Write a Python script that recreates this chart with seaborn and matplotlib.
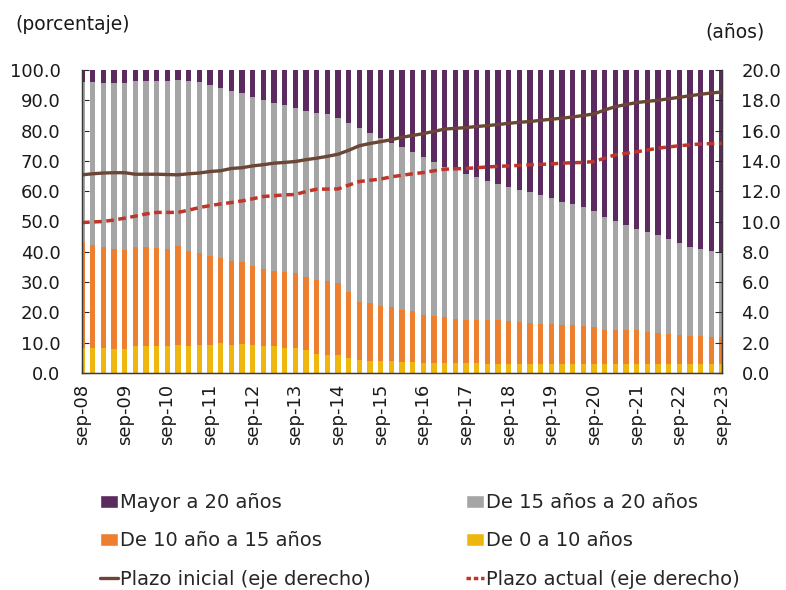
import numpy as np
import pandas as pd
import seaborn as sns
import matplotlib.pyplot as plt
from matplotlib.patches import Patch
from matplotlib.lines import Line2D

# trimestres: sep-08 (pos 0) ... sep-23 (pos 60)
pos = list(range(61))
tick_labels = ['sep-08', 'sep-09', 'sep-10', 'sep-11', 'sep-12', 'sep-13', 'sep-14', 'sep-15',
               'sep-16', 'sep-17', 'sep-18', 'sep-19', 'sep-20', 'sep-21', 'sep-22', 'sep-23']

# porcentaje (eje izquierdo)
de_0_a_10 = [8.2, 8.2, 8.2, 8.0, 8.0, 9.0, 9.0, 9.0, 9.0, 9.3, 9.0, 9.3, 9.3, 9.9, 9.3, 9.5,
             9.1, 8.8, 8.8, 8.2, 8.2, 7.7, 6.3, 6.0, 6.0, 5.0, 4.4, 4.1, 3.8, 4.1, 3.6, 3.5,
             3.3, 3.3, 3.3, 3.3, 3.2, 3.2, 3.1, 3.1, 3.1, 3.1, 3.1, 3.1, 3.0, 3.0, 3.0, 3.0,
             3.0, 3.0, 3.0, 3.0, 3.0, 3.0, 3.0, 3.0, 3.0, 3.0, 3.0, 3.0, 3.0]
de_10_a_15 = [34.9, 34.1, 33.3, 32.9, 32.7, 32.5, 32.5, 32.4, 31.9, 32.7, 31.1, 30.3, 29.2, 27.9, 27.5, 27.0,
              26.1, 25.6, 24.9, 25.0, 24.8, 24.1, 24.5, 24.4, 23.7, 21.7, 19.1, 19.0, 18.4, 17.7, 17.3, 16.8,
              15.9, 15.6, 15.2, 14.5, 14.4, 14.4, 14.3, 14.3, 14.0, 13.8, 13.4, 13.2, 13.2, 12.9, 12.7, 12.4,
              12.2, 11.1, 11.1, 11.1, 11.1, 10.4, 10.2, 9.9, 9.5, 9.3, 9.1, 8.9, 8.8]
de_15_a_20 = [53.1, 53.6, 54.1, 54.7, 54.9, 54.8, 55.0, 55.1, 55.6, 54.7, 56.4, 56.4, 56.6, 56.3, 56.4, 55.8,
              56.0, 55.7, 55.5, 55.2, 54.6, 54.8, 55.1, 55.0, 54.6, 55.9, 57.2, 56.0, 55.2, 54.2, 53.8, 52.8,
              52.0, 50.8, 49.6, 49.2, 48.0, 47.0, 46.1, 45.0, 44.4, 43.5, 43.1, 42.5, 41.5, 40.7, 40.1, 39.5,
              38.4, 37.5, 36.2, 34.8, 33.5, 33.1, 32.2, 31.3, 30.4, 29.2, 28.8, 28.2, 27.8]
mayor_20 = [3.8, 4.1, 4.4, 4.4, 4.4, 3.7, 3.5, 3.5, 3.5, 3.3, 3.5, 4.0, 4.9, 5.9, 6.8, 7.7,
            8.8, 9.9, 10.8, 11.6, 12.4, 13.4, 14.1, 14.6, 15.7, 17.4, 19.3, 20.9, 22.6, 24.0, 25.3, 26.9,
            28.8, 30.3, 31.9, 33.0, 34.4, 35.4, 36.5, 37.6, 38.5, 39.6, 40.4, 41.2, 42.3, 43.4, 44.2, 45.1,
            46.4, 48.4, 49.7, 51.1, 52.4, 53.5, 54.6, 55.8, 57.1, 58.5, 59.1, 59.9, 60.4]

# años (eje derecho)
plazo_inicial = [13.08, 13.15, 13.2, 13.22, 13.22, 13.12, 13.12, 13.12, 13.1, 13.08, 13.15, 13.2, 13.3, 13.35, 13.5, 13.55,
                 13.67, 13.75, 13.85, 13.9, 13.96, 14.08, 14.18, 14.3, 14.44, 14.7, 15.0, 15.15, 15.27, 15.4, 15.56, 15.68,
                 15.8, 15.95, 16.1, 16.15, 16.2, 16.27, 16.33, 16.4, 16.48, 16.55, 16.6, 16.68, 16.75, 16.82, 16.9, 17.0,
                 17.1, 17.36, 17.58, 17.72, 17.85, 17.93, 18.0, 18.1, 18.2, 18.3, 18.4, 18.48, 18.55]
plazo_actual = [9.93, 9.97, 10.0, 10.1, 10.22, 10.35, 10.5, 10.6, 10.6, 10.6, 10.75, 10.92, 11.05, 11.16, 11.25, 11.36,
                11.5, 11.65, 11.7, 11.76, 11.78, 11.98, 12.13, 12.14, 12.15, 12.4, 12.64, 12.72, 12.8, 12.95, 13.05, 13.15,
                13.23, 13.35, 13.45, 13.48, 13.5, 13.55, 13.6, 13.64, 13.67, 13.7, 13.74, 13.77, 13.8, 13.85, 13.88, 13.9,
                13.96, 14.18, 14.4, 14.5, 14.6, 14.72, 14.84, 14.92, 15.0, 15.06, 15.12, 15.14, 15.16]

purple = '#5b2a5e'
gray = '#a5a5a5'
orange = '#ec7f30'
yellow = '#eeb70f'
brown = '#6b4535'
red = '#c0352a'
txt = '#1a1a1a'

sns.set_style('white')
plt.rcParams['font.family'] = ['DejaVu Sans']

df = pd.DataFrame({'pos': pos, 'a': de_0_a_10, 'b': de_10_a_15, 'c': de_15_a_20, 'd': mayor_20})
df['top_a'] = df['a']
df['top_b'] = df['top_a'] + df['b']
df['top_c'] = df['top_b'] + df['c']
df['top_d'] = df['top_c'] + df['d']

fig = plt.figure(figsize=(7.86, 5.9), dpi=100)
ax = fig.add_axes([82/786, 1-373/590, 640/786, 303/590])

for col, color in [('top_d', purple), ('top_c', gray), ('top_b', orange), ('top_a', yellow)]:
    sns.barplot(data=df, x='pos', y=col, native_scale=True, width=0.47, color=color,
                saturation=1, errorbar=None, linewidth=0, ax=ax)

ax.set_xlim(0, 60)
ax.set_ylim(0, 100)
ax.set_yticks(np.arange(0, 101, 10))
ax.set_yticklabels([f'{v:.1f}' for v in np.arange(0, 101, 10)])
ax.set_xticks(np.arange(0, 61, 4))
ax.set_xticklabels(tick_labels, rotation=90)
ax.set_xlabel('')
ax.set_ylabel('')

ax2 = ax.twinx()
lines = pd.DataFrame({'pos': pos, 'ini': plazo_inicial, 'act': plazo_actual})
sns.lineplot(data=lines, x='pos', y='ini', color=brown, linewidth=2.4, ax=ax2)
sns.lineplot(data=lines, x='pos', y='act', color=red, linewidth=2.5, ax=ax2)
ax2.lines[1].set_dashes((2.2, 1.3))
ax2.set_ylim(0, 20)
ax2.set_yticks(np.arange(0, 21, 2))
ax2.set_yticklabels([f'{v:.1f}' for v in np.arange(0, 21, 2)])
ax2.set_xlim(0, 60)
ax2.set_xlabel('')
ax2.set_ylabel('')

for a in (ax, ax2):
    a.spines['top'].set_visible(False)
    for s in ('left', 'right', 'bottom'):
        a.spines[s].set_color('#3a3a3a')
        a.spines[s].set_linewidth(0.9)

ax.tick_params(axis='y', direction='in', length=5, width=0.8, pad=15.5, labelsize=13, labelcolor=txt, left=True)
ax.tick_params(axis='x', direction='in', length=6, width=0.8, pad=7.5, labelsize=13, labelcolor=txt, bottom=True)
ax2.tick_params(axis='y', direction='in', length=5, width=0.8, pad=14, labelsize=13, labelcolor=txt, right=True)

fig.text(15/786, 1-25/590, '(porcentaje)', fontsize=13.5, color=txt, va='center', ha='left')
fig.text(765/786, 1-32/590, '(años)', fontsize=13.5, color=txt, va='center', ha='right')

handles = [Patch(facecolor=purple), Patch(facecolor=orange),
           Line2D([], [], color=brown, linewidth=2.4),
           Patch(facecolor=gray), Patch(facecolor=yellow),
           Line2D([], [], color=red, linewidth=2.5, dashes=(1.3, 0.8))]
labels = ['Mayor a 20 años', 'De 10 año a 15 años', 'Plazo inicial (eje derecho)',
          'De 15 años a 20 años', 'De 0 a 10 años', 'Plazo actual (eje derecho)']
fig.legend(handles, labels, loc='upper left', bbox_to_anchor=(100/786, 1-493/590), ncol=2,
           frameon=False, fontsize=14, handlelength=0.93, handleheight=0.67, handletextpad=0.1,
           columnspacing=4.9, labelspacing=1.0, borderpad=0, borderaxespad=0)

fig.savefig('out.png', dpi=100)
